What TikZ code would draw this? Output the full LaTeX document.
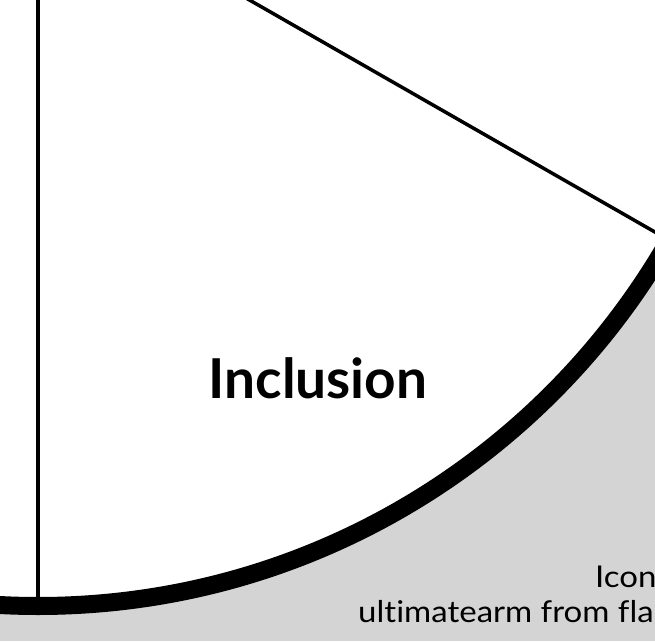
\documentclass[tikz,border=0pt]{standalone}
\usepackage{fontspec}
\setmainfont{Lato}
\newfontfamily\creditfont{Lato}[Ligatures=NoCommon]
\definecolor{bggray}{RGB}{212,212,212}
\tikzset{
  spoke/.style={line width=3.5pt},
  rim/.style={line width=18pt},
  titletext/.style={font=\fontsize{55}{60}\selectfont\bfseries, inner sep=0pt},
  credittext/.style={font=\creditfont\fontsize{30}{34}\selectfont, inner sep=0pt, anchor=base west, xscale=1.1, transform shape}
}
\begin{document}
\begin{tikzpicture}[x=1pt,y=1pt]

			% Frame
			\useasboundingbox (0,0) rectangle (655,641);
			\clip (0,0) rectangle (655,641);
			\fill[bggray] (0,0) rectangle (655,641);

			% Pie
			\coordinate (centre) at (38,762);
			\fill[white] (centre) circle (727);
			\draw[spoke] (centre) -- ++(270:727);
			\draw[spoke] (centre) -- ++(-29.78:727);
			\draw[rim] (centre) circle (727);

			% Labels
			\node[titletext, anchor=base] (inclusion) at (318,243) {Inclusion};
			\node[credittext] (creditA) at (595,54) {Icon};
			\node[credittext] (creditB) at (358,19) {ultimatearm from fla};

		\end{tikzpicture}
\end{document}
